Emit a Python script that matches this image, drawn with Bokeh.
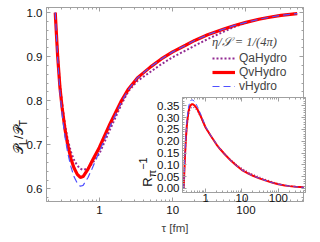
from bokeh.plotting import figure
from bokeh.models import (Range1d, LinearAxis, LogAxis, FixedTicker, Legend, LegendItem,
                          Div, PrintfTickFormatter)
from bokeh.layouts import column
from bokeh.embed import file_html
from bokeh.resources import INLINE

# ---------------- data ----------------
tau = [0.25, 0.27, 0.29, 0.31, 0.34, 0.37, 0.41, 0.45, 0.5, 0.55, 0.6, 0.7, 0.8, 1.0, 1.4,
       2.0, 2.5, 3.3, 5, 7, 10, 15, 20, 30, 50, 70, 100, 150, 200, 300, 500]

pl_qv = [1.0, 0.90, 0.83, 0.785, 0.735, 0.70, 0.668, 0.648, 0.633, 0.626, 0.628, 0.645, 0.664,
         0.694, 0.748, 0.800, 0.827, 0.852, 0.877, 0.895, 0.911, 0.926, 0.937, 0.950, 0.963,
         0.971, 0.978, 0.985, 0.989, 0.994, 0.998]
pl_qa = [1.0, 0.905, 0.838, 0.795, 0.745, 0.712, 0.684, 0.666, 0.653, 0.646, 0.643, 0.647, 0.658,
         0.680, 0.735, 0.792, 0.822, 0.845, 0.866, 0.883, 0.899, 0.914, 0.925, 0.940, 0.957,
         0.968, 0.977, 0.985, 0.989, 0.994, 0.998]
pl_v = [1.0, 0.895, 0.82, 0.77, 0.718, 0.682, 0.65, 0.628, 0.613, 0.606, 0.608, 0.626, 0.647,
        0.685, 0.742, 0.797, 0.826, 0.852, 0.877, 0.895, 0.911, 0.926, 0.937, 0.950, 0.963,
        0.971, 0.978, 0.985, 0.989, 0.994, 0.998]

rinv_qv = [0.0, 0.13, 0.22, 0.28, 0.327, 0.348, 0.356, 0.356, 0.351, 0.343, 0.334, 0.313, 0.293,
           0.258, 0.222, 0.186, 0.167, 0.146, 0.117, 0.097, 0.078, 0.063, 0.054, 0.043, 0.031,
           0.024, 0.018, 0.013, 0.010, 0.007, 0.005]
rinv_qa = [0.0, 0.12, 0.205, 0.265, 0.312, 0.334, 0.343, 0.345, 0.341, 0.335, 0.327, 0.308, 0.289,
           0.256, 0.221, 0.186, 0.168, 0.148, 0.121, 0.102, 0.084, 0.069, 0.059, 0.048, 0.035,
           0.027, 0.020, 0.014, 0.011, 0.008, 0.005]
rinv_v = [0.0, 0.14, 0.235, 0.295, 0.345, 0.367, 0.375, 0.374, 0.367, 0.357, 0.346, 0.322, 0.300,
          0.262, 0.224, 0.187, 0.167, 0.146, 0.117, 0.097, 0.078, 0.063, 0.054, 0.043, 0.031,
          0.024, 0.018, 0.013, 0.010, 0.007, 0.005]

series_names = ["QaHydro", "QvHydro", "vHydro"]
legend_title = "η/𝒮 = 1/(4π)"
main_ylabel = "𝒫<sub>L</sub>/𝒫<sub>T</sub>"
inset_ylabel = "R<sub>π</sub><sup>−1</sup>"
xlabel = "τ [fm]"

main_yticks = [0.6, 0.7, 0.8, 0.9, 1.0]
inset_yticks = [0.0, 0.05, 0.10, 0.15, 0.20, 0.25, 0.30, 0.35]
log_ticks = [1, 10, 100]

# ---------------- styles ----------------
FRAME = "#a0a0a0"
FONT = "Liberation Sans"
C_QA, C_QV, C_V = "#922b92", "#ff0000", "#5050ff"

log_minor = [m * 10 ** e for e in (-1, 0, 1, 2) for m in range(2, 10)]


def style_axis(ax, fs="11.5px"):
    ax.axis_line_color = FRAME
    ax.major_tick_line_color = FRAME
    ax.minor_tick_line_color = FRAME
    ax.major_tick_in = 4
    ax.major_tick_out = 0
    ax.minor_tick_in = 2
    ax.minor_tick_out = 0
    ax.major_label_text_font = FONT
    ax.major_label_text_font_size = fs
    ax.major_label_text_color = "#111111"


def mirror(ax):
    ax.major_label_text_font_size = "1px"
    ax.major_label_text_alpha = 0
    ax.major_label_standoff = 0


# ---------------- main figure ----------------
main = figure(width=304, height=236, x_axis_type="log",
              x_range=Range1d(0.19, 610), y_range=Range1d(0.5715, 1.0117),
              output_backend="svg", toolbar_location=None,
              min_border_left=40, min_border_right=1, min_border_top=7, min_border_bottom=30)
main.grid.visible = False
main.outline_line_color = FRAME
main.background_fill_color = "white"

y_ticker = FixedTicker(ticks=main_yticks,
                       minor_ticks=[round(0.56 + 0.02 * i, 2) for i in range(24)])
x_ticker = FixedTicker(ticks=log_ticks, minor_ticks=log_minor)

main.yaxis.ticker = y_ticker
main.yaxis.formatter = PrintfTickFormatter(format="%.1f")
main.xaxis.ticker = x_ticker
main.xaxis.major_label_overrides = {1: "1", 10: "10", 100: "100"}
style_axis(main.xaxis[0])
style_axis(main.yaxis[0])
main.yaxis.major_label_standoff = 4
main.xaxis.major_label_standoff = 4
main.xaxis.axis_label = xlabel
main.xaxis.axis_label_text_font = FONT
main.xaxis.axis_label_text_font_size = "11.5px"
main.xaxis.axis_label_text_font_style = "normal"
main.xaxis.axis_label_standoff = 5

ra = LinearAxis(ticker=y_ticker)
style_axis(ra); mirror(ra)
main.add_layout(ra, "right")
ta = LogAxis(ticker=x_ticker)
style_axis(ta); mirror(ta)
main.add_layout(ta, "above")

r_qa = main.line(tau, pl_qa, line_color=C_QA, line_width=2, line_dash="2 2")
r_qv = main.line(tau, pl_qv, line_color=C_QV, line_width=3.2)
r_v = main.line(tau, pl_v, line_color=C_V, line_width=1.2, line_dash="7 4")

legend = Legend(items=[LegendItem(label=series_names[0], renderers=[r_qa]),
                       LegendItem(label=series_names[1], renderers=[r_qv]),
                       LegendItem(label=series_names[2], renderers=[r_v])],
                location=(166, 108), title=legend_title,
                padding=0, margin=0, spacing=0, border_line_alpha=0, background_fill_alpha=0,
                label_text_font=FONT, label_text_font_size="12px", label_height=14,
                glyph_height=14, glyph_width=23, label_standoff=4,
                title_text_font="Liberation Serif", title_text_font_style="italic",
                title_text_font_size="12.5px", title_standoff=1)
main.add_layout(legend)

# ---------------- inset ----------------
inset = figure(width=170, height=116, x_axis_type="log",
               x_range=Range1d(0.232, 557), y_range=Range1d(-0.017, 0.385),
               output_backend="svg", toolbar_location=None,
               min_border_left=46, min_border_right=1, min_border_top=7, min_border_bottom=14)
inset.grid.visible = False
inset.outline_line_color = FRAME
inset.background_fill_color = "white"
inset.border_fill_alpha = 0
inset.styles = {"position": "absolute", "left": "136px", "top": "90px"}

iy_ticker = FixedTicker(ticks=inset_yticks,
                        minor_ticks=[round(-0.01 + 0.01 * i, 2) for i in range(40)])
inset.yaxis.ticker = iy_ticker
inset.yaxis.formatter = PrintfTickFormatter(format="%.2f")
inset.xaxis.ticker = x_ticker
inset.xaxis.major_label_overrides = {1: "1", 10: "10", 100: "100"}
style_axis(inset.xaxis[0])
style_axis(inset.yaxis[0])
inset.yaxis.major_label_standoff = 3
inset.xaxis.major_label_standoff = 1
ira = LinearAxis(ticker=iy_ticker)
style_axis(ira); mirror(ira)
inset.add_layout(ira, "right")
ita = LogAxis(ticker=x_ticker)
style_axis(ita); mirror(ita)
inset.add_layout(ita, "above")

inset.line(tau, rinv_qa, line_color=C_QA, line_width=1.3, line_dash="1 2")
inset.line(tau, rinv_qv, line_color=C_QV, line_width=2)
inset.line(tau, rinv_v, line_color=C_V, line_width=1, line_dash="5 3")

# ---------------- rotated axis titles (HTML text) ----------------
lab_style = {"font-family": FONT, "font-size": "13px", "color": "#111111",
             "text-align": "center", "line-height": "16px", "white-space": "nowrap",
             "transform": "rotate(-90deg)", "transform-origin": "50% 50%",
             "position": "absolute"}
ylab_main = Div(text=main_ylabel, width=50, height=16,
                styles=dict(lab_style, left="-11px", top="124px", width="50px", height="16px"))
ylab_inset = Div(text=inset_ylabel, width=34, height=16,
                 styles=dict(lab_style, left="121px", top="159px", width="34px", height="16px"))

layout = column(main, inset, ylab_main, ylab_inset)
open("out.html", "w").write(file_html(layout, INLINE))
